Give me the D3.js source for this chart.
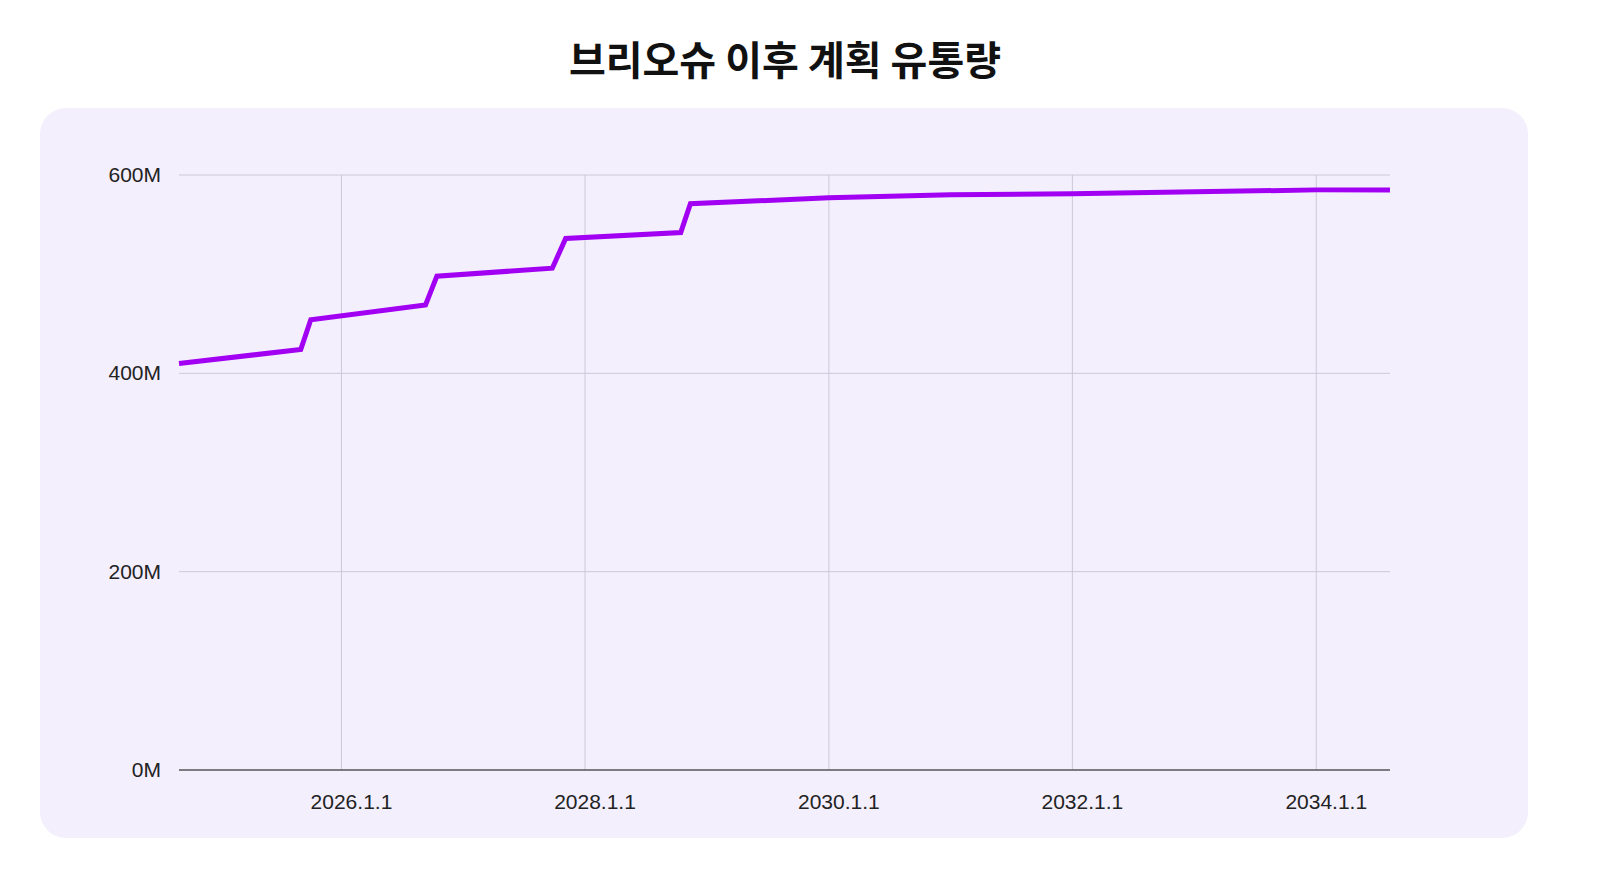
<!DOCTYPE html>
<html>
<head>
<meta charset="utf-8">
<script src="https://cdn.jsdelivr.net/npm/d3@7"></script>
<style>
  body { margin: 0; background: #fff; }
</style>
</head>
<body>
<div id="chart"></div>
<script>
// Data
const dates = ['2024-09-01', '2025-09-01', '2025-10-01', '2026-09-10', '2026-10-14',
    '2027-09-25', '2027-11-04', '2028-10-14', '2028-11-12', '2030-01-01',
    '2031-01-01', '2032-01-01', '2034-01-01', '2034-08-10'];
const supply = [410, 424, 454, 469, 498, 506, 536, 542, 571, 577, 580, 581, 585, 585];
const xTicks = ['2026-01-01', '2028-01-01', '2030-01-01', '2032-01-01', '2034-01-01'];
const yTicks = [0, 200, 400, 600];
const title = '브리오슈 이후 계획 유통량';

const width = 1600, height = 895;
const margin = [175, 210, 125, 179]; // top, right, bottom, left

const svg = d3.select('#chart').append('svg')
    .attr('width', width)
    .attr('height', height)
    .style('font-family', "'Liberation Sans', Arial, sans-serif");

// Panel
svg.append('rect')
    .attr('x', 40).attr('y', 108)
    .attr('width', 1488).attr('height', 730)
    .attr('rx', 26)
    .attr('fill', '#f3effd');

svg.append('text')
    .attr('x', 785).attr('y', 75)
    .attr('text-anchor', 'middle')
    .style('font-family', "'Noto Sans CJK KR', sans-serif")
    .style('font-weight', 700)
    .style('font-size', '40px')
    .attr('fill', '#111')
    .text(title);

const parse = d3.timeParse('%Y-%m-%d');
const data = dates.map((d, i) => ({ t: parse(d), v: supply[i] }));

const x = d3.scaleTime()
    .domain([data[0].t, data[data.length - 1].t])
    .range([margin[3], width - margin[1]]);
const y = d3.scaleLinear()
    .domain([0, 600])
    .range([height - margin[2], margin[0]]);

const grid = svg.append('g');
grid.selectAll('line.h')
    .data(yTicks.filter(d => d > 0))
    .join('line')
    .attr('x1', x.range()[0]).attr('x2', x.range()[1])
    .attr('y1', d => y(d)).attr('y2', d => y(d))
    .attr('stroke', '#cdc8d8').attr('stroke-width', 1);
grid.selectAll('line.v')
    .data(xTicks.map(parse))
    .join('line')
    .attr('x1', d => x(d)).attr('x2', d => x(d))
    .attr('y1', y(600)).attr('y2', y(0))
    .attr('stroke', '#cdc8d8').attr('stroke-width', 1);

svg.append('line')
    .attr('x1', x.range()[0]).attr('x2', x.range()[1])
    .attr('y1', y(0)).attr('y2', y(0))
    .attr('stroke', '#555').attr('stroke-width', 1.5);

// Axis labels
svg.selectAll('text.ytick')
    .data(yTicks)
    .join('text')
    .attr('class', 'ytick')
    .attr('x', 161)
    .attr('y', d => y(d) + 7)
    .attr('text-anchor', 'end')
    .style('font-size', '21px')
    .attr('fill', '#222')
    .text(d => d + 'M');

svg.selectAll('text.xtick')
    .data(xTicks)
    .join('text')
    .attr('class', 'xtick')
    .attr('x', d => x(parse(d)) + 10)
    .attr('y', 809)
    .attr('text-anchor', 'middle')
    .style('font-size', '21px')
    .attr('fill', '#222')
    .text(d => {
        const t = parse(d);
        return `${t.getFullYear()}.${t.getMonth() + 1}.${t.getDate()}`;
    });

// Line
svg.append('path')
    .datum(data)
    .attr('fill', 'none')
    .attr('stroke', '#a100f2')
    .attr('stroke-width', 5)
    .attr('stroke-linejoin', 'miter')
    .attr('d', d3.line().x(d => x(d.t)).y(d => y(d.v)));
</script>
</body>
</html>
